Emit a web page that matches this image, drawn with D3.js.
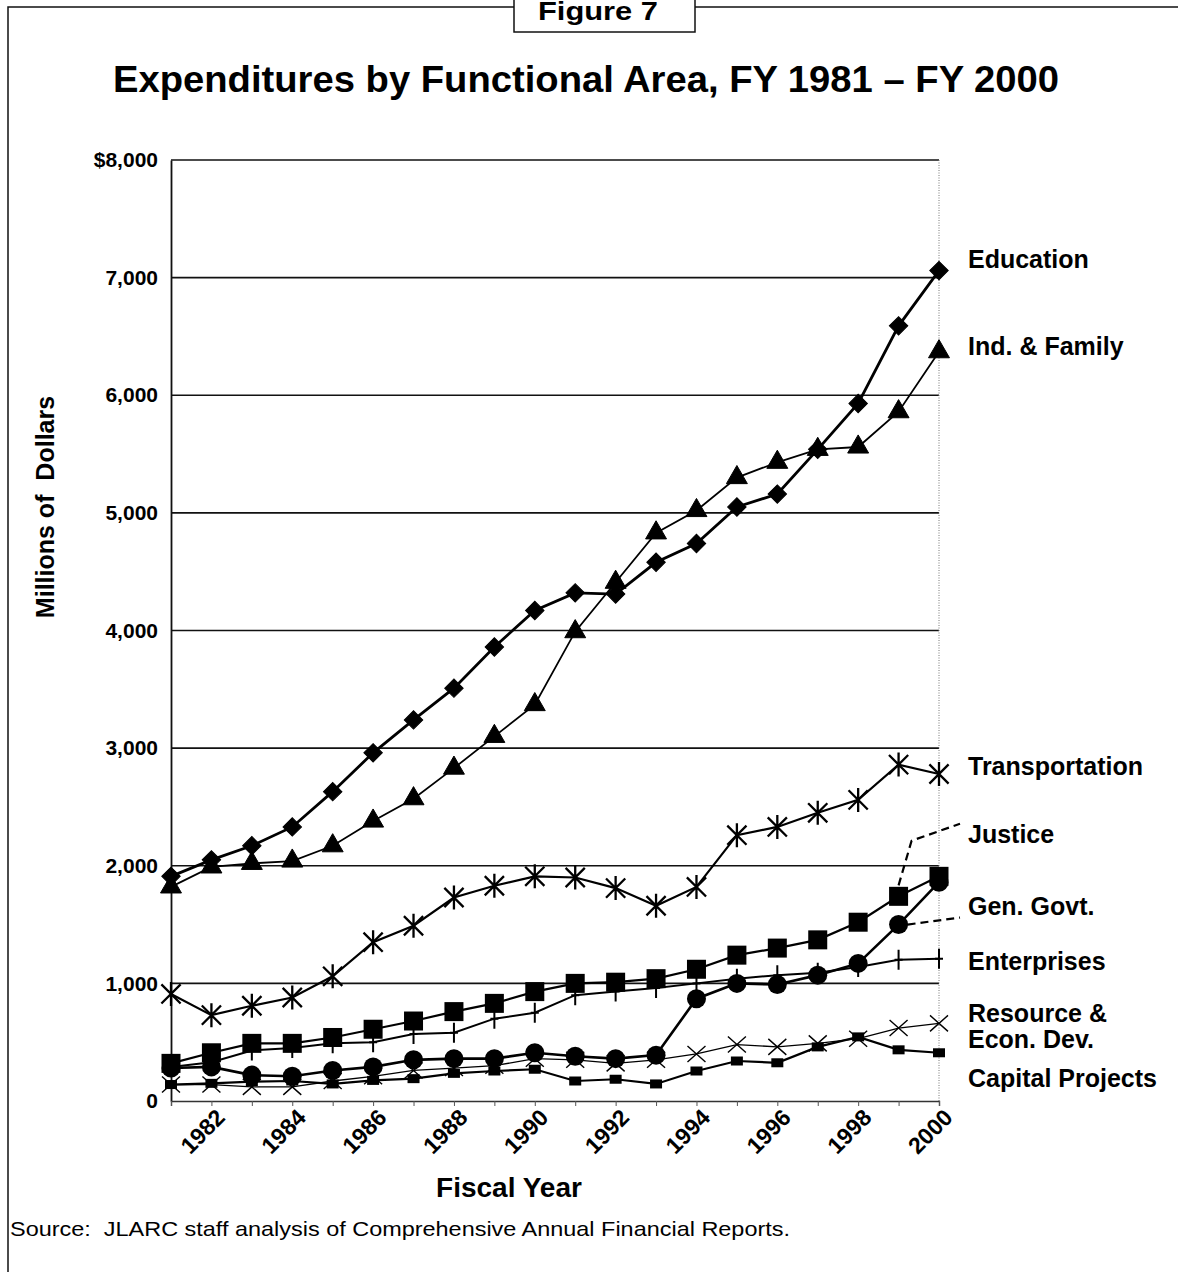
<!DOCTYPE html>
<html>
<head>
<meta charset="utf-8">
<script src="https://cdn.jsdelivr.net/npm/d3@7"></script>
<style>
  body { margin: 0; background: #fff; }
  text { font-family: "Liberation Sans", Arial, Helvetica, sans-serif; fill: #000; }
</style>
</head>
<body>
<script>
// fiscal years on the x axis
var years = [1981, 1982, 1983, 1984, 1985, 1986, 1987, 1988, 1989, 1990,
             1991, 1992, 1993, 1994, 1995, 1996, 1997, 1998, 1999, 2000];
var yearLabels = [1982, 1984, 1986, 1988, 1990, 1992, 1994, 1996, 1998, 2000];
var yTicks = [0, 1000, 2000, 3000, 4000, 5000, 6000, 7000, 8000];

// millions of dollars
var education      = [1910, 2050, 2170, 2330, 2630, 2960, 3240, 3510, 3860, 4170, 4320, 4310, 4580, 4740, 5050, 5160, 5540, 5930, 6590, 7060];
var indFamily      = [1820, 1990, 2020, 2040, 2170, 2380, 2570, 2830, 3100, 3370, 3990, 4410, 4830, 5020, 5300, 5430, 5540, 5560, 5860, 6370];
var transportation = [910, 730, 810, 880, 1060, 1350, 1490, 1730, 1830, 1910, 1900, 1810, 1660, 1820, 2260, 2330, 2450, 2560, 2860, 2780];
var justice        = [320, 410, 490, 490, 540, 610, 680, 760, 830, 930, 1000, 1010, 1040, 1120, 1240, 1300, 1370, 1520, 1740, 1910];
var genGovt        = [280, 290, 220, 210, 260, 290, 350, 360, 360, 410, 380, 360, 390, 870, 1000, 990, 1070, 1170, 1500, 1860];
var enterprises    = [290, 330, 430, 450, 490, 500, 570, 580, 700, 750, 900, 930, 960, 1000, 1040, 1070, 1090, 1140, 1200, 1210];
var resource       = [140, 140, 120, 120, 170, 210, 260, 280, 300, 360, 350, 320, 350, 400, 480, 460, 490, 530, 620, 660];
var capital        = [140, 150, 165, 170, 145, 175, 190, 235, 255, 270, 170, 185, 145, 255, 340, 325, 460, 545, 435, 410];

var width = 1178, height = 1272;
var plotLeft = 171, plotRight = 939, plotTop = 160, plotBottom = 1101;

var svg = d3.select("body").append("svg")
  .attr("width", width)
  .attr("height", height);

var x = d3.scaleLinear().domain([1981, 2000]).range([plotLeft, plotRight]);
var y = d3.scaleLinear().domain([0, 8000]).range([plotBottom, plotTop]);

function asterisk(r) {
  var a = r * 0.8;
  return "M0," + (-r) + "L0," + r +
    "M" + (-a) + "," + (-a) + "L" + a + "," + a +
    "M" + (-a) + "," + a + "L" + a + "," + (-a);
}
function cross(w, h) {
  return "M" + (-w) + "," + (-h) + "L" + w + "," + h + "M" + (-w) + "," + h + "L" + w + "," + (-h);
}
function plus(w, h) {
  return "M0," + (-h) + "L0," + h + "M" + (-w) + ",0L" + w + ",0";
}

var series = [
  {name: "capital", values: capital, lw: 2.2, marker: "rect", mw: 12, mh: 9},
  {name: "resource", values: resource, lw: 1.3, marker: "path", path: cross(9, 8), sw: 1.4},
  {name: "enterprises", values: enterprises, lw: 2, marker: "path", path: plus(4, 10), sw: 2},
  {name: "genGovt", values: genGovt, lw: 2.6, marker: "circle", r: 9.5},
  {name: "justice", values: justice, lw: 2.2, marker: "rect", mw: 19, mh: 19},
  {name: "transportation", values: transportation, lw: 2.2, marker: "path", path: asterisk(12), sw: 2.3},
  {name: "indFamily", values: indFamily, lw: 1.8, marker: "path", path: d3.symbol(d3.symbolTriangle, 190)(), fill: true},
  {name: "education", values: education, lw: 2.8, marker: "path", path: d3.symbol(d3.symbolSquare, 170)(), fill: true, rotate: 45}
];

function drawFrame() {
  // outer page frame, broken by the figure box
  svg.append("path")
    .attr("d", "M8," + height + "L8,7L514,7M695,7L" + width + ",7")
    .attr("fill", "none").attr("stroke", "#111").attr("stroke-width", 1.5);
  svg.append("rect")
    .attr("x", 514).attr("y", -5).attr("width", 181).attr("height", 37)
    .attr("fill", "#fff").attr("stroke", "#111").attr("stroke-width", 1.5);
  svg.append("text")
    .attr("x", 538).attr("y", 20)
    .attr("font-size", 25).attr("font-weight", "bold")
    .attr("textLength", 120).attr("lengthAdjust", "spacingAndGlyphs")
    .text("Figure 7");

  svg.append("text")
    .attr("x", 113).attr("y", 92)
    .attr("font-size", 37).attr("font-weight", "bold")
    .attr("textLength", 946).attr("lengthAdjust", "spacingAndGlyphs")
    .text("Expenditures by Functional Area, FY 1981 \u2013 FY 2000");
}

function drawAxes() {
  var grid = svg.append("g").attr("class", "grid");
  grid.selectAll("line")
    .data(yTicks.filter(function(d) { return d > 0; }))
    .enter().append("line")
    .attr("x1", plotLeft).attr("x2", plotRight)
    .attr("y1", function(d) { return y(d); })
    .attr("y2", function(d) { return y(d); })
    .attr("stroke", "#111").attr("stroke-width", 1.6);

  // right side dotted edge
  svg.append("line")
    .attr("x1", plotRight).attr("x2", plotRight).attr("y1", plotTop).attr("y2", plotBottom)
    .attr("stroke", "#777").attr("stroke-width", 1).attr("stroke-dasharray", "1,1.5");

  var yAxis = svg.append("g")
    .attr("transform", "translate(" + plotLeft + ",0)")
    .call(d3.axisLeft(y).tickValues(yTicks).tickSize(0).tickPadding(13)
      .tickFormat(function(d) { return d == 8000 ? "$8,000" : d3.format(",")(d); }));
  yAxis.select(".domain").attr("stroke", "#111").attr("stroke-width", 1.8);
  yAxis.selectAll("text")
    .attr("font-size", 21).attr("font-weight", "bold")
    .attr("font-family", "'Liberation Sans', Arial, sans-serif");

  var xAxis = svg.append("g")
    .attr("transform", "translate(0," + plotBottom + ")")
    .call(d3.axisBottom(x).tickValues(years).tickSize(5).tickFormat(""));
  xAxis.select(".domain").attr("stroke", "#333").attr("stroke-width", 1.4);
  xAxis.selectAll(".tick line").attr("stroke", "#555").attr("stroke-width", 1);

  svg.append("g").selectAll("text")
    .data(yearLabels)
    .enter().append("text")
    .attr("transform", function(d) { return "translate(" + (x(d) + 15) + "," + (plotBottom + 18) + ") rotate(-45)"; })
    .attr("text-anchor", "end")
    .attr("font-size", 23).attr("font-weight", "bold")
    .text(function(d) { return d; });

  svg.append("text")
    .attr("x", 509).attr("y", 1197)
    .attr("text-anchor", "middle")
    .attr("font-size", 28).attr("font-weight", "bold")
    .text("Fiscal Year");

  svg.append("text")
    .attr("transform", "translate(54,507) rotate(-90)")
    .attr("text-anchor", "middle")
    .attr("font-size", 25).attr("font-weight", "bold")
    .attr("xml:space", "preserve")
    .text("Millions of  Dollars");

  svg.append("text")
    .attr("x", 10).attr("y", 1236)
    .attr("font-size", 21)
    .attr("textLength", 780).attr("lengthAdjust", "spacingAndGlyphs")
    .attr("xml:space", "preserve")
    .text("Source:  JLARC staff analysis of Comprehensive Annual Financial Reports.");
}

function drawSeries() {
  var line = d3.line()
    .x(function(d, i) { return x(years[i]); })
    .y(function(d) { return y(d); });

  series.forEach(function(s) {
    var g = svg.append("g").attr("class", s.name);
    g.append("path")
      .attr("d", line(s.values))
      .attr("fill", "none").attr("stroke", "#000").attr("stroke-width", s.lw);

    var pts = g.selectAll(".pt")
      .data(s.values)
      .enter();

    if (s.marker == "circle") {
      pts.append("circle")
        .attr("cx", function(d, i) { return x(years[i]); })
        .attr("cy", function(d) { return y(d); })
        .attr("r", s.r).attr("fill", "#000");
    } else if (s.marker == "rect") {
      pts.append("rect")
        .attr("x", function(d, i) { return x(years[i]) - s.mw / 2; })
        .attr("y", function(d) { return y(d) - s.mh / 2; })
        .attr("width", s.mw).attr("height", s.mh).attr("fill", "#000");
    } else {
      pts.append("path")
        .attr("d", s.path)
        .attr("transform", function(d, i) {
          return "translate(" + x(years[i]) + "," + y(d) + ")" + (s.rotate ? " rotate(" + s.rotate + ")" : "");
        })
        .attr("fill", s.fill ? "#000" : "none")
        .attr("stroke", "#000").attr("stroke-width", s.sw || 1);
    }
  });
}

function drawLabels() {
  var lx = 968;
  var labels = [
    {text: "Education", y: 268},
    {text: "Ind. & Family", y: 355},
    {text: "Transportation", y: 775},
    {text: "Justice", y: 843},
    {text: "Gen. Govt.", y: 915},
    {text: "Enterprises", y: 970},
    {text: "Resource &", y: 1022},
    {text: "Econ. Dev.", y: 1048},
    {text: "Capital Projects", y: 1087}
  ];
  svg.append("g").selectAll("text")
    .data(labels)
    .enter().append("text")
    .attr("x", lx).attr("y", function(d) { return d.y; })
    .attr("font-size", 25).attr("font-weight", "bold")
    .text(function(d) { return d.text; });

  // dashed leaders for Justice and Gen. Govt.
  var jx = x(1999), jy = y(justice[18]);
  svg.append("path")
    .attr("d", "M" + jx + "," + (jy - 11) + "L" + (jx + 13) + "," + (y(2000) - 25) + "L" + (lx - 8) + "," + (y(2000) - 42))
    .attr("fill", "none").attr("stroke", "#000").attr("stroke-width", 2.2).attr("stroke-dasharray", "8,5");
  var gx = x(1999), gy = y(genGovt[18]);
  svg.append("path")
    .attr("d", "M" + (gx + 9) + "," + gy + "L" + (lx - 8) + "," + (gy - 7))
    .attr("fill", "none").attr("stroke", "#000").attr("stroke-width", 2.2).attr("stroke-dasharray", "8,5");
}

drawFrame();
drawAxes();
drawSeries();
drawLabels();
</script>
</body>
</html>
